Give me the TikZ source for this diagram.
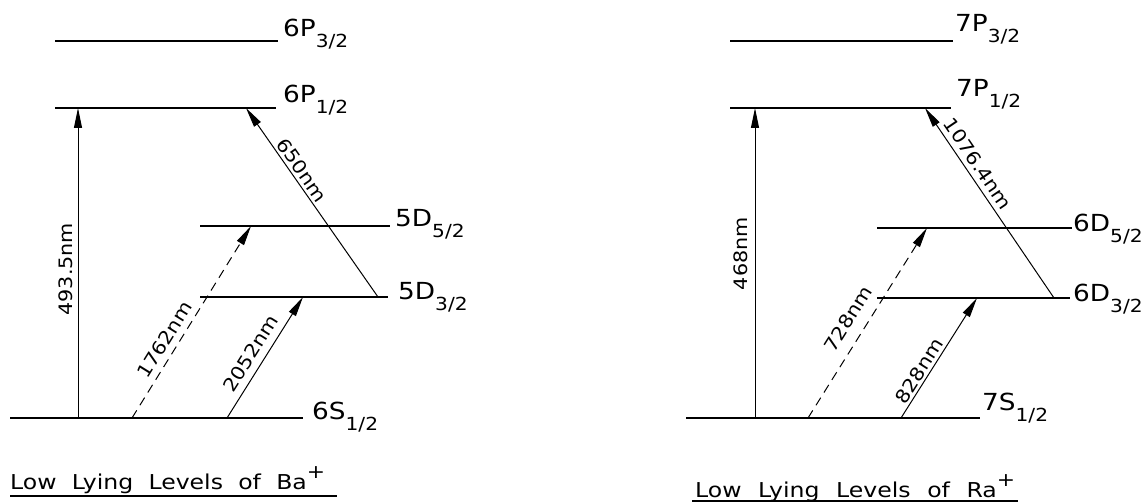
\documentclass[tikz,border=0pt]{standalone}
\usepackage{fontspec}
\setmainfont{DejaVu Sans}[FakeStretch=1.12]
\newfontfamily\ttlfont{DejaVu Sans}[FakeStretch=1.15]
\usetikzlibrary{arrows.meta}

\tikzset{
  level/.style={line width=2pt},
  trans/.style={line width=1pt,-{Triangle[length=20pt,width=8pt]}},
  forbid/.style={trans,dash pattern=on 9pt off 6pt},
  lvl/.style={anchor=base west,inner sep=0pt,font=\fontsize{23.5}{23.5}\selectfont},
  wl/.style={sloped,above,inner sep=3pt,font=\fontsize{18.5}{18.5}\selectfont},
  ttl/.style={anchor=base west,inner sep=0pt,font=\ttlfont\fontsize{20.5}{20.5}\selectfont},
}
\newcommand{\lsub}[1]{\raisebox{-11pt}{\fontsize{18}{18}\selectfont#1}}
\newcommand{\ionp}{\raisebox{11pt}{\fontsize{19}{19}\selectfont+}}
\newcommand{\ttltext}[2]{\makebox[#1][l]{Low\hfill Lying\hfill Levels\hfill of\hfill #2\ionp}}

\begin{document}
\begin{tikzpicture}[x=1pt,y=-1pt]
  \useasboundingbox (0,0) rectangle (1146,502);

  % ---- Ba+ levels
  \draw[level] (55,41)   -- (278,41);
  \draw[level] (55,108)  -- (276,108);
  \draw[level] (200,226) -- (390,226);
  \draw[level] (200,297) -- (388,297);
  \draw[level] (10,418)  -- (303,418);

  \node[lvl] (ba-p32) at (283,37)  {6P\lsub{3/2}};
  \node[lvl] (ba-p12) at (283,103) {6P\lsub{1/2}};
  \node[lvl] (ba-d52) at (395,227) {5D\lsub{5/2}};
  \node[lvl] (ba-d32) at (398,300) {5D\lsub{3/2}};
  \node[lvl] (ba-s12) at (312,420) {6S\lsub{1/2}};

  % transition end points (on the levels)
  \coordinate (ba-a0) at (78,418);  \coordinate (ba-a1) at (78,108);
  \coordinate (ba-b0) at (132,418); \coordinate (ba-b1) at (251,226);
  \coordinate (ba-c0) at (227,418); \coordinate (ba-c1) at (303,297);
  \coordinate (ba-e0) at (378,297); \coordinate (ba-e1) at (246,108);

  \draw[trans]  (ba-a0) -- node[wl,pos=0.48,inner sep=5pt] {493.5nm} (ba-a1);
  \draw[forbid] (ba-b0) -- node[wl,pos=0.37,inner sep=6pt] {1762nm} (ba-b1);
  \draw[trans]  (ba-c0) -- node[wl,pos=0.47,inner sep=7pt] {2052nm} (ba-c1);
  \draw[trans]  (ba-e0) -- node[wl,pos=0.64] {650nm} (ba-e1);

  % ---- Ra+ levels
  \draw[level] (730,41)  -- (953,41);
  \draw[level] (730,108) -- (951,108);
  \draw[level] (877,228) -- (1072,228);
  \draw[level] (877,298) -- (1070,298);
  \draw[level] (686,418) -- (980,418);

  \node[lvl] (ra-p32) at (955,32)   {7P\lsub{3/2}};
  \node[lvl] (ra-p12) at (956,97)   {7P\lsub{1/2}};
  \node[lvl] (ra-d52) at (1073,232) {6D\lsub{5/2}};
  \node[lvl] (ra-d32) at (1073,302) {6D\lsub{3/2}};
  \node[lvl] (ra-s12) at (982,410)  {7S\lsub{1/2}};

  \coordinate (ra-a0) at (755,418);  \coordinate (ra-a1) at (755,108);
  \coordinate (ra-b0) at (808,418);  \coordinate (ra-b1) at (927,228);
  \coordinate (ra-c0) at (901,418);  \coordinate (ra-c1) at (977,298);
  \coordinate (ra-e0) at (1054,298); \coordinate (ra-e1) at (925,108);

  \draw[trans]  (ra-a0) -- node[wl,pos=0.53,inner sep=7pt] {468nm} (ra-a1);
  \draw[forbid] (ra-b0) -- node[wl,pos=0.47,inner sep=11pt] {728nm} (ra-b1);
  \draw[trans]  (ra-c0) -- node[wl,pos=0.35,inner sep=2pt] {828nm} (ra-c1);
  \draw[trans]  (ra-e0) -- node[wl,pos=0.67,inner sep=5pt] {1076.4nm} (ra-e1);

  % ---- titles
  \node[ttl] (ba-title) at (10,489)  {\ttltext{315pt}{Ba}};
  \node[ttl] (ra-title) at (695,497) {\ttltext{320pt}{Ra}};
  \coordinate (ba-u0) at (10,496);  \coordinate (ba-u1) at (337,496);
  \coordinate (ra-u0) at (692,501); \coordinate (ra-u1) at (1018,501);
  \draw[line width=1.3pt] (ba-u0) -- (ba-u1);
  \draw[line width=1.3pt] (ra-u0) -- (ra-u1);
\end{tikzpicture}
\end{document}
